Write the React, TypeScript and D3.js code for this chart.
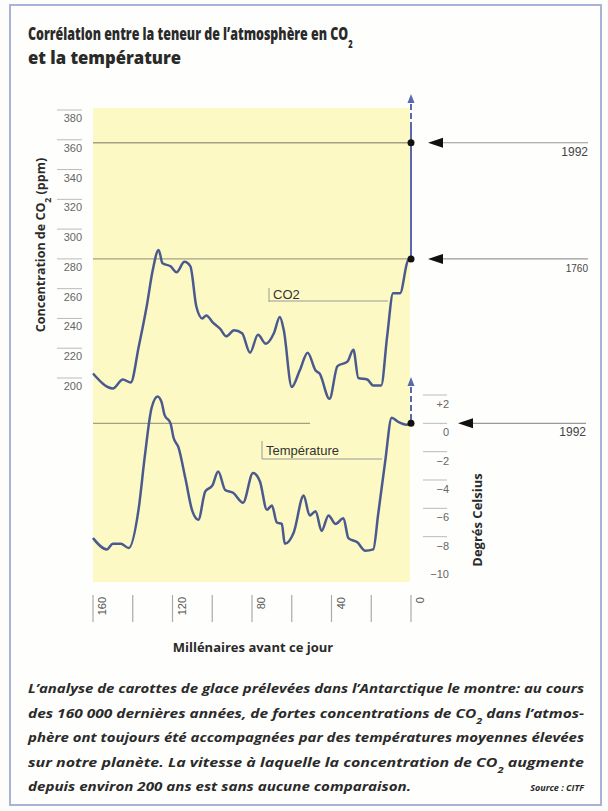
import React from "react";
import * as d3 from "d3";

// CO2 record (thousands of years before present, ppm)
const co2Ka = [160, 150, 145, 141, 137, 133, 130, 127, 125, 121, 118, 114, 111, 108, 105, 103, 99.5, 96, 93, 89, 85, 81, 77, 73, 69, 66, 64, 60, 56, 52, 48, 46, 41, 37, 32, 29, 26.5, 22, 19, 15, 12, 9, 5.5, 1.5, 0];
const co2Ppm = [203, 193, 199, 197, 221, 248, 272, 286, 277, 275, 271, 278, 275, 248, 240, 242, 237, 233, 228, 232, 230, 217, 229, 223, 230, 241, 232, 194, 205, 217, 205, 203, 186, 208, 211, 219, 200, 199, 195, 195, 228, 257, 257, 279, 280];

// temperature anomaly (°C)
const tempKa = [160, 153, 150, 146, 142, 137, 134, 130.5, 127.5, 125.5, 124, 121, 119.5, 117, 113.5, 110, 107, 103.5, 100, 97, 93.5, 89.5, 84.5, 79.5, 76, 72.5, 70, 67.5, 65, 63.5, 59, 54, 51, 48, 45, 41.5, 38, 34, 31.5, 27, 23, 19, 16.5, 13, 9.7, 6.4, 2.2, 0];
const tempVal = [-8.1, -8.9, -8.5, -8.5, -8.8, -6.0, -2.4, 1.1, 1.9, 1.5, 0.6, 0, -1.0, -1.7, -3.9, -6.2, -6.8, -4.8, -4.4, -3.4, -4.7, -4.9, -5.6, -3.5, -4.1, -6.1, -5.8, -7.0, -7.1, -8.5, -7.7, -5.1, -6.5, -6.2, -7.6, -6.5, -7.1, -6.7, -8.1, -8.4, -9.0, -8.9, -6.4, -2.7, 0.4, 0.1, -0.1, 0];

const co2Ticks = [380, 360, 340, 320, 300, 280, 260, 240, 220, 200];
const tempTicks = [2, 0, -2, -4, -6, -8, -10];
const kaTicks = [160, 140, 120, 100, 80, 60, 40, 20, 0];
const kaLabels = [160, 120, 80, 40, 0];

const co2Marks = [{ value: 358, label: "1992", size: 12 }, { value: 280, label: "1760", size: 10 }];
const tempMark = { value: 0, label: "1992" };

const captionLines = [
  "L’analyse de carottes de glace prélevées dans l’Antarctique le montre: au cours",
  "des 160 000 dernières années, de fortes concentrations de CO|2| dans l’atmos-",
  "phère ont toujours été accompagnées par des températures moyennes élevées",
  "sur notre planète. La vitesse à laquelle la concentration de CO|2| augmente",
  "depuis environ 200 ans est sans aucune comparaison.",
];

const W = 608;
const H = 811;
const plot = { left: 93, right: 411, top: 108, bottom: 582 };

const ink = "#2a2a2a";
const curve = "#4b5a8e";
const refLine = "#a3a184";
const narrow = "'Liberation Sans Narrow', 'Liberation Sans', Arial, sans-serif";
const sans = "'Open Sans', 'Noto Sans', sans-serif";

// text with "|2|" turned into a subscript
const withSub = (s: string) =>
  s.split("|").map((part, i) =>
    i % 2 === 1 ? (
      <tspan key={i} baselineShift="sub" fontSize="0.7em">{part}</tspan>
    ) : (
      <tspan key={i}>{part}</tspan>
    )
  );

const App = () => {
  const x = d3.scaleLinear().domain([160, 0]).range([plot.left, plot.right]);
  const yCo2 = d3.scaleLinear().domain([200, 380]).range([378, 110]);
  const yTemp = d3.scaleLinear().domain([-10, 2]).range([565, 395]);

  const co2Line = d3
    .line<number>()
    .x((_, i) => x(co2Ka[i]))
    .y((d) => yCo2(d))
    .curve(d3.curveMonotoneX);
  const tempLine = d3
    .line<number>()
    .x((_, i) => x(tempKa[i]))
    .y((d) => yTemp(d))
    .curve(d3.curveMonotoneX);

  const x0 = x(0);

  return (
    <svg width={W} height={H} style={{ position: "absolute", left: 0, top: 0, background: "#fdfdfb" }}>
      {/* outer frame */}
      <rect x={10} y={5} width={591} height={800} fill="#fefefc" stroke="#a9b3d8" strokeWidth={2} />

      {/* title */}
      <g fontFamily={sans} fontWeight={800} fill={ink} fontSize={17}>
        <text transform="translate(28, 40) scale(0.73, 1)">
          Corrélation entre la teneur de l’atmosphère en CO<tspan baselineShift="sub" fontSize="0.6em">2</tspan>
        </text>
        <text transform="translate(28, 64) scale(0.98, 1)">et la température</text>
      </g>

      {/* plot background */}
      <rect x={plot.left} y={plot.top} width={plot.right - plot.left - 1} height={plot.bottom - plot.top} fill="#fcf9c4" />

      {/* reference lines */}
      {co2Marks.map((m) => (
        <line key={m.label + m.value} x1={plot.left} x2={x0} y1={yCo2(m.value)} y2={yCo2(m.value)} stroke={refLine} strokeWidth={1.3} />
      ))}
      <line x1={plot.left} x2={310} y1={yTemp(tempMark.value)} y2={yTemp(tempMark.value)} stroke={refLine} strokeWidth={1.2} />

      {/* left axis: CO2 */}
      <g fontFamily={narrow} fontSize={11} fill="#666">
        {co2Ticks.map((t) => (
          <g key={t}>
            <line x1={57} x2={82} y1={yCo2(t)} y2={yCo2(t)} stroke="#bbb" strokeWidth={1} />
            <text x={82} y={yCo2(t) + 12} textAnchor="end">{t}</text>
          </g>
        ))}
      </g>
      <text
        transform={`translate(45, 245) rotate(-90)`}
        textAnchor="middle"
        fontFamily={sans}
        fontWeight="bold"
        fontSize={12.5}
        fill={ink}
      >
        Concentration de CO<tspan baselineShift="sub" fontSize="0.7em">2</tspan> (ppm)
      </text>

      {/* right axis: temperature */}
      <g fontFamily={narrow} fontSize={11} fill="#666">
        {tempTicks.map((t) => (
          <g key={t}>
            {t > -10 && <line x1={423} x2={447} y1={yTemp(t)} y2={yTemp(t)} stroke="#bbb" strokeWidth={1} />}
            <text x={449} y={yTemp(t) + 13} textAnchor="end">
              {t > 0 ? `+${t}` : t < 0 ? `−${-t}` : "0"}
            </text>
          </g>
        ))}
      </g>
      <text
        transform={`translate(482, 520) rotate(-90)`}
        textAnchor="middle"
        fontFamily={sans}
        fontWeight="bold"
        fontSize={13}
        fill={ink}
      >
        Degrés Celsius
      </text>

      {/* x axis */}
      <g>
        {kaTicks.map((t) => (
          <line key={t} x1={x(t)} x2={x(t)} y1={595} y2={622} stroke="#aaa" strokeWidth={1.2} />
        ))}
        {kaLabels.map((t) => (
          <text
            key={t}
            transform={`translate(${x(t) + 13}, 597) rotate(-90)`}
            textAnchor="end"
            fontFamily={narrow}
            fontSize={11}
            fill="#555"
          >
            {t}
          </text>
        ))}
      </g>
      <text x={253} y={652} textAnchor="middle" fontFamily={sans} fontWeight="bold" fontSize={13} fill={ink}>
        Millénaires avant ce jour
      </text>

      {/* curves */}
      <path d={co2Line(co2Ppm) || ""} fill="none" stroke={curve} strokeWidth={2.5} strokeLinejoin="round" />
      <path d={tempLine(tempVal) || ""} fill="none" stroke={curve} strokeWidth={2.5} strokeLinejoin="round" />

      {/* vertical present-day lines */}
      <line x1={x0} x2={x0} y1={127} y2={yCo2(280)} stroke="#5a69ad" strokeWidth={2} />
      <line x1={x0} x2={x0} y1={104} y2={127} stroke="#5a69ad" strokeWidth={2} strokeDasharray="6,3" />
      <path d={`M${x0},94 L${x0 - 3.5},103 L${x0 + 3.5},103 Z`} fill="#5a69ad" />
      <line x1={x0} x2={x0} y1={387} y2={yTemp(0)} stroke="#5a69ad" strokeWidth={2} strokeDasharray="6,3" />
      <path d={`M${x0},377 L${x0 - 3.5},386 L${x0 + 3.5},386 Z`} fill="#5a69ad" />

      {/* dots */}
      {co2Marks.map((m) => (
        <circle key={"d" + m.value} cx={x0} cy={yCo2(m.value)} r={3.5} fill="#111" />
      ))}
      <circle cx={x0} cy={yTemp(tempMark.value)} r={3.5} fill="#111" />

      {/* year arrows */}
      <g fontFamily={narrow} fill="#444">
        {co2Marks.map((m) => {
          const y = yCo2(m.value);
          return (
            <g key={"a" + m.value}>
              <path d={`M428,${y} L443,${y - 5} L443,${y + 5} Z`} fill="#111" />
              <line x1={443} x2={588} y1={y} y2={y} stroke="#999" strokeWidth={1.2} />
              <text x={588} y={y + 13} textAnchor="end" fontSize={m.size}>{m.label}</text>
            </g>
          );
        })}
        <path d={`M458,${yTemp(0)} L473,${yTemp(0) - 5} L473,${yTemp(0) + 5} Z`} fill="#111" />
        <line x1={473} x2={586} y1={yTemp(0)} y2={yTemp(0)} stroke="#999" strokeWidth={1.2} />
        <text x={586} y={yTemp(0) + 13} textAnchor="end" fontSize={12}>{tempMark.label}</text>
      </g>

      {/* series labels */}
      <g fontFamily="'Liberation Sans', Arial, sans-serif" fontSize={13} fill="#333">
        <line x1={269} x2={269} y1={288} y2={302} stroke="#999" />
        <line x1={269} x2={388} y1={301} y2={301} stroke="#999" />
        <text x={273} y={299}>CO2</text>
        <line x1={262} x2={262} y1={441} y2={459} stroke="#999" />
        <line x1={262} x2={382} y1={459} y2={459} stroke="#999" />
        <text x={266} y={455}>Température</text>
      </g>

      {/* caption */}
      <g fontFamily={sans} fontStyle="italic" fontWeight="bold" fontSize={12.5} fill={ink}>
        {captionLines.map((l, i) => (
          <text
            key={i}
            x={28}
            y={693 + i * 24.5}
            textLength={i < 4 ? 556 : 383}
            lengthAdjust="spacingAndGlyphs"
          >
            {withSub(l)}
          </text>
        ))}
        <text x={584} y={791} textAnchor="end" fontSize={9}>Source : CITF</text>
      </g>
    </svg>
  );
};

export default App;
